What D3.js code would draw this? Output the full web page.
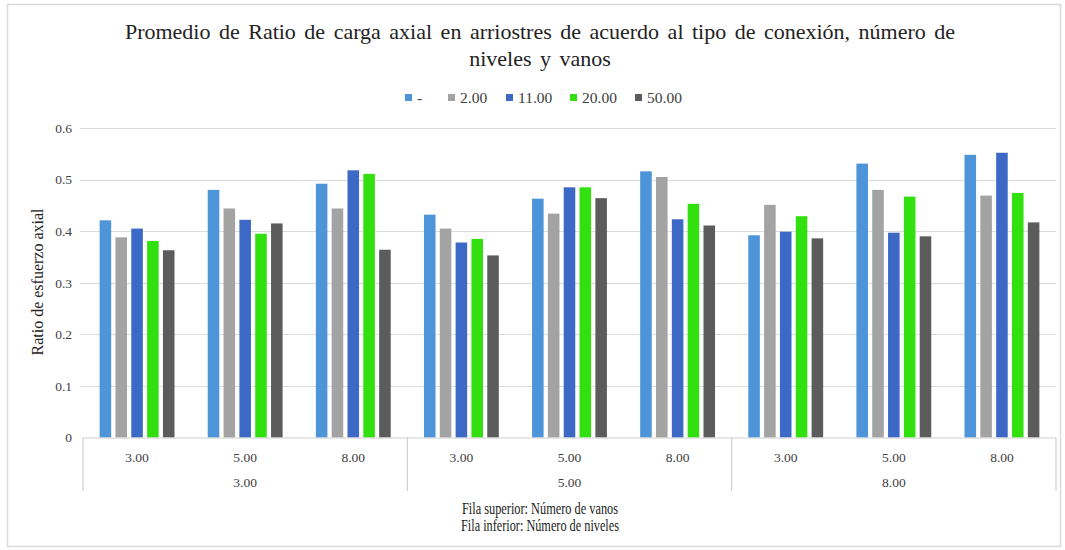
<!DOCTYPE html>
<html>
<head>
<meta charset="utf-8">
<script src="https://cdn.jsdelivr.net/npm/d3@7"></script>
<style>
  html, body { margin: 0; padding: 0; background: #fff; }
  svg { display: block; }
  text { font-family: "Liberation Serif", "Times New Roman", serif; }
</style>
</head>
<body>
<svg id="chart" width="1065" height="550"></svg>
<script>
// ---- data ----
const outerCategories = ["3.00", "5.00", "8.00"];          // Número de niveles
const innerCategories = ["3.00", "5.00", "8.00"];          // Número de vanos
const seriesNames = ["-", "2.00", "11.00", "20.00", "50.00"];
const seriesColors = ["#4e94d8", "#a3a3a3", "#3c69c6", "#33e00f", "#5c5c5c"];
// values per series, in order of (niveles, vanos) groups
const serieDash  = [0.421, 0.480, 0.492, 0.432, 0.463, 0.516, 0.392, 0.531, 0.548];
const serie2     = [0.388, 0.444, 0.444, 0.405, 0.434, 0.505, 0.451, 0.480, 0.469];
const serie11    = [0.405, 0.422, 0.518, 0.378, 0.485, 0.423, 0.399, 0.397, 0.552];
const serie20    = [0.381, 0.395, 0.511, 0.385, 0.485, 0.453, 0.429, 0.467, 0.474];
const serie50    = [0.363, 0.415, 0.364, 0.353, 0.464, 0.411, 0.386, 0.390, 0.417];
const yTicks = [0, 0.1, 0.2, 0.3, 0.4, 0.5, 0.6];
const yTickLabels = ["0", "0.1", "0.2", "0.3", "0.4", "0.5", "0.6"];
const titleLines = ["Promedio de Ratio de carga axial en arriostres de acuerdo al tipo de conexión, número de", "niveles y vanos"];
const yAxisTitle = "Ratio de esfuerzo axial";
const xAxisTitleLines = ["Fila superior: Número de vanos", "Fila inferior: Número de niveles"];

const allSeries = [serieDash, serie2, serie11, serie20, serie50];
const groups = [];
outerCategories.forEach(o => innerCategories.forEach(i => groups.push(o + "|" + i)));

// ---- layout ----
const svg = d3.select("#chart");
const W = 1065, H = 550;
const mLeft = 83, mRight = 1056, mTop = 128, mBottom = 437.5;

svg.append("rect").attr("x", 7.5).attr("y", 4.5).attr("width", W - 12).attr("height", H - 8)
  .attr("fill", "#fff").attr("stroke", "#dadada").attr("stroke-width", 1.5);

const x0 = d3.scaleBand().domain(groups).range([mLeft, mRight]).paddingInner(0).paddingOuter(0);
const x1 = d3.scaleBand().domain(d3.range(seriesNames.length)).range([0, x0.bandwidth()])
  .paddingInner(0.27).paddingOuter(1.05);
const y = d3.scaleLinear().domain([0, 0.6]).range([mBottom, mTop]);

// gridlines
svg.append("g").selectAll("line").data(yTicks.slice(1)).join("line")
  .attr("x1", mLeft - 3).attr("x2", mRight)
  .attr("y1", d => Math.round(y(d)) + 0.5).attr("y2", d => Math.round(y(d)) + 0.5)
  .attr("stroke", "#dcdcdc").attr("stroke-width", 1.2);

// y axis labels
const yAxis = d3.axisLeft(y).tickValues(yTicks).tickFormat((d, i) => yTickLabels[i]).tickSize(0).tickPadding(11);
const yg = svg.append("g").attr("transform", `translate(${mLeft},0)`).call(yAxis);
yg.select(".domain").remove();
yg.selectAll("text").attr("font-size", 13.5).attr("fill", "#404040")
  .style("font-family", "'Liberation Serif', serif");

// bars
const gBars = svg.append("g");
groups.forEach((g, gi) => {
  allSeries.forEach((s, si) => {
    gBars.append("rect")
      .attr("x", x0(g) + x1(si))
      .attr("y", y(s[gi]))
      .attr("width", x1.bandwidth())
      .attr("height", y(0) - y(s[gi]))
      .attr("fill", seriesColors[si]);
  });
});

// x axis (multi-level)
const axisColor = "#d0d0d0";
svg.append("line").attr("x1", mLeft).attr("x2", mRight).attr("y1", mBottom + 0.5).attr("y2", mBottom + 0.5)
  .attr("stroke", axisColor).attr("stroke-width", 1.2);
const outerW = (mRight - mLeft) / outerCategories.length;
d3.range(outerCategories.length + 1).forEach(k => {
  const xx = mLeft + k * outerW;
  svg.append("line").attr("x1", xx).attr("x2", xx).attr("y1", mBottom).attr("y2", 491)
    .attr("stroke", axisColor).attr("stroke-width", 1.2);
});
svg.append("g").selectAll("text").data(groups).join("text")
  .attr("x", d => x0(d) + x0.bandwidth() / 2)
  .attr("y", 462)
  .attr("text-anchor", "middle").attr("font-size", 13.5).attr("fill", "#404040")
  .text(d => d.split("|")[1]);
svg.append("g").selectAll("text").data(outerCategories).join("text")
  .attr("x", (d, i) => mLeft + (i + 0.5) * outerW)
  .attr("y", 487)
  .attr("text-anchor", "middle").attr("font-size", 13.5).attr("fill", "#404040")
  .text(d => d);

// x axis title (condensed serif)
svg.append("g").selectAll("text").data(xAxisTitleLines).join("text")
  .attr("x", 540).attr("y", (d, i) => 514 + i * 17)
  .attr("text-anchor", "middle").attr("font-size", 17).attr("fill", "#222")
  .attr("textLength", (d, i) => i === 0 ? 156 : 158)
  .attr("lengthAdjust", "spacingAndGlyphs")
  .text(d => d);

// y axis title
svg.append("text").attr("transform", "translate(43,282) rotate(-90)")
  .attr("text-anchor", "middle").attr("font-size", 16).attr("fill", "#222")
  .text(yAxisTitle);

// title
svg.append("g").selectAll("text").data(titleLines).join("text")
  .attr("x", 540).attr("y", (d, i) => 39 + i * 27)
  .attr("text-anchor", "middle").attr("font-size", 22).attr("fill", "#222")
  .attr("word-spacing", 3)
  .text(d => d);

// legend
const legendX = [405, 448, 506, 570, 635];
const lg = svg.append("g");
seriesNames.forEach((n, i) => {
  lg.append("rect").attr("x", legendX[i]).attr("y", 94).attr("width", 7).attr("height", 7)
    .attr("fill", seriesColors[i]);
  lg.append("text").attr("x", legendX[i] + 12).attr("y", 103)
    .attr("font-size", 15.5).attr("fill", "#404040").text(n);
});
</script>
</body>
</html>
